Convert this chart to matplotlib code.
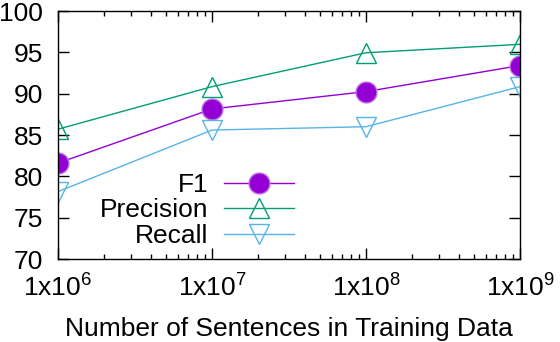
import matplotlib
matplotlib.use("Agg")
import matplotlib.pyplot as plt
from matplotlib.ticker import FixedLocator, LogLocator, NullFormatter

plt.rcParams['font.family'] = ['Liberation Sans', 'DejaVu Sans']
plt.rcParams['mathtext.fontset'] = 'custom'
plt.rcParams['mathtext.rm'] = 'Liberation Sans'

# data
sentences = [1e6, 1e7, 1e8, 1e9]
f1 = [81.6, 88.15, 90.25, 93.4]
precision = [85.7, 90.85, 94.95, 95.97]
recall = [78.15, 85.6, 86.0, 90.85]
xtick_labels = ['1x10$^{\\mathrm{6}}$', '1x10$^{\\mathrm{7}}$', '1x10$^{\\mathrm{8}}$', '1x10$^{\\mathrm{9}}$']

fs = 19

fig = plt.figure(figsize=(5.6, 3.42), dpi=100)
ax = fig.add_axes([58 / 560, 1 - 259 / 342, 462 / 560, 248 / 342])

ax.plot(sentences, f1, color='#9400D3', lw=1, marker='o', ms=15,
        mfc='#9400D3', mec='#c070e8', mew=1, label='F1')
ax.plot(sentences, precision, color='#009E73', lw=1, marker='^', ms=15,
        mfc='none', mec='#009E73', mew=1, label='Precision')
ax.plot(sentences, recall, color='#56B4E9', lw=1, marker='v', ms=15,
        mfc='none', mec='#56B4E9', mew=1, label='Recall')

ax.set_xscale('log')
ax.set_xlim(1e6, 1e9)
ax.set_ylim(70, 100)
ax.xaxis.set_major_locator(FixedLocator(sentences))
ax.set_xticklabels(xtick_labels)
ax.xaxis.set_minor_locator(LogLocator(base=10, subs=range(2, 10)))
ax.xaxis.set_minor_formatter(NullFormatter())
ax.set_yticks([70, 75, 80, 85, 90, 95, 100])

ax.tick_params(which='both', direction='in', top=True, right=True, labelsize=fs, width=1)
ax.tick_params(which='major', length=8)
ax.tick_params(which='minor', length=3.6)
ax.tick_params(axis='x', pad=10)
ax.tick_params(axis='y', pad=11)
for s in ax.spines.values():
    s.set_linewidth(1)

ax.set_xlabel('Number of Sentences in Training Data', fontsize=fs, labelpad=12)

leg = ax.legend(loc='lower left', bbox_to_anchor=(100 / 560, 1 - 248 / 342),
                bbox_transform=fig.transFigure, frameon=False, fontsize=fs,
                markerfirst=False, handlelength=2.65, handletextpad=0.6,
                labelspacing=0.06, borderaxespad=0, borderpad=0)
for t in leg.get_texts():
    t.set_ha('right')
leg._legend_box.align = 'right'

fig.savefig('out.png', dpi=100)
